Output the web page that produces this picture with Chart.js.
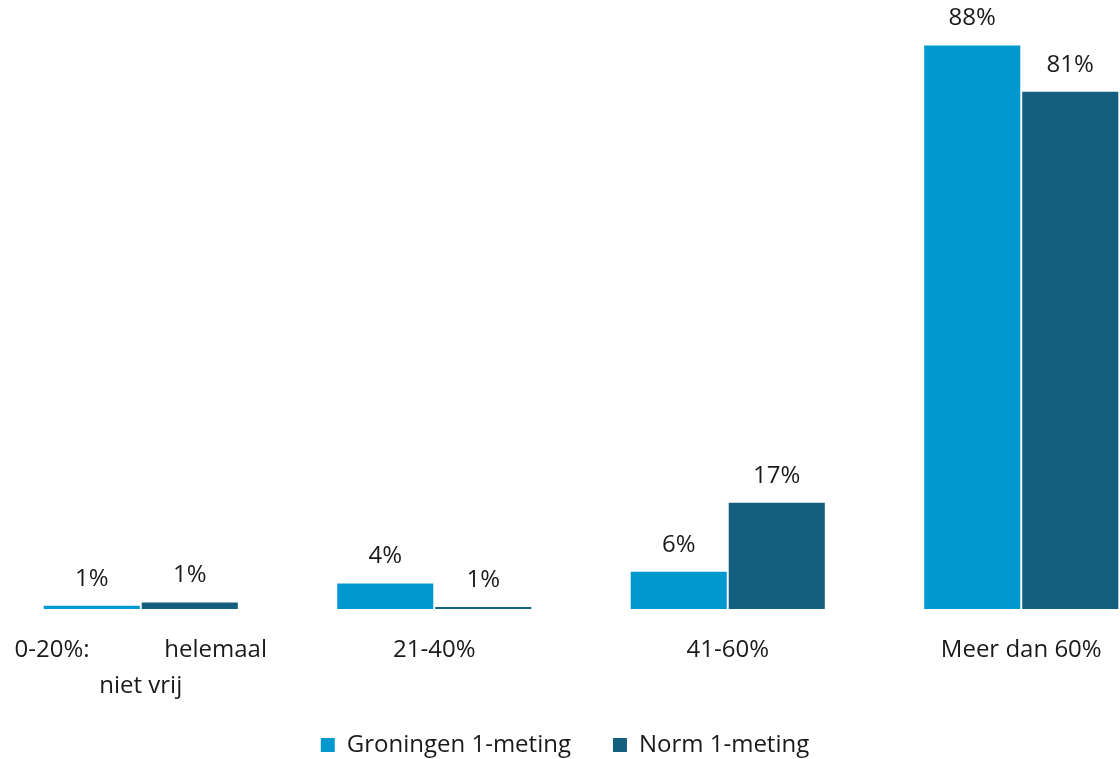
<!DOCTYPE html>
<html>
<head>
<meta charset="utf-8">
<script src="https://cdn.jsdelivr.net/npm/chart.js@4.4.1/dist/chart.umd.min.js"></script>
<style>
  html, body { margin: 0; padding: 0; background: #fff; overflow: hidden; }
  #wrap { position: absolute; left: -6px; top: 0; width: 1174px; height: 759px; }
</style>
</head>
<body>
<div id="wrap"><canvas id="chart"></canvas></div>
<script>
// Data
const categories = [
    ['0-20%:            helemaal', 'niet vrij'],
    '21-40%',
    '41-60%',
    'Meer dan 60%'
];
const groningenValues = [0.5, 4.0, 5.8, 88];
const normValues = [1.0, 0.3, 16.6, 80.8];
const groningenLabels = ['1%', '4%', '6%', '88%'];
const normLabels = ['1%', '1%', '17%', '81%'];

const FONT = '"Open Sans", Lato, sans-serif';
const FONT_SIZE = 24;
const TEXT_COLOR = '#1a1a1a';
const LEGEND_LIFT = 36;   // vertical room taken back from the legend
const LEGEND_DROP = 8;    // legend text sits this much lower

// value labels above each bar
const barLabels = {
    id: 'barLabels',
    afterDatasetsDraw(chart) {
        const ctx = chart.ctx;
        ctx.save();
        ctx.font = FONT_SIZE + 'px ' + FONT;
        ctx.fillStyle = TEXT_COLOR;
        ctx.textAlign = 'center';
        ctx.textBaseline = 'middle';
        chart.data.datasets.forEach((ds, i) => {
            chart.getDatasetMeta(i).data.forEach((bar, j) => {
                ctx.fillText(ds.valueLabels[j], bar.x, bar.y - 27);
            });
        });
        ctx.restore();
    }
};

// legend: keep wide item spacing but take less vertical room, and nudge it left
const legendTweak = {
    id: 'legendTweak',
    beforeLayout(chart) {
        const lg = chart.legend;
        if (lg && !lg._tweaked) {
            const fit = lg.fit.bind(lg);
            lg.fit = function () { fit(); this.height -= LEGEND_LIFT; };
            lg._tweaked = true;
        }
    },
    afterLayout(chart) {
        const lg = chart.legend;
        lg.left -= 16;
        lg.right -= 16;
        lg.top -= LEGEND_LIFT - LEGEND_DROP;
        lg.height += LEGEND_LIFT - LEGEND_DROP;
    }
};

new Chart(document.getElementById('chart'), {
    type: 'bar',
    data: {
        labels: categories,
        datasets: [
            {
                label: 'Groningen 1-meting',
                data: groningenValues,
                valueLabels: groningenLabels,
                backgroundColor: '#0099cf'
            },
            {
                label: 'Norm 1-meting',
                data: normValues,
                valueLabels: normLabels,
                backgroundColor: '#155f7e'
            }
        ]
    },
    options: {
        responsive: true,
        maintainAspectRatio: false,
        animation: false,
        datasets: { bar: { categoryPercentage: 0.668, barPercentage: 0.98 } },
        layout: { padding: { top: 20, left: 0, right: 0, bottom: 0 } },
        scales: {
            x: {
                grid: { display: false },
                border: { display: false },
                ticks: {
                    color: TEXT_COLOR,
                    font: { family: FONT, size: FONT_SIZE, lineHeight: 1.5 },
                    padding: 15,
                    maxRotation: 0,
                    autoSkip: false
                }
            },
            y: {
                display: false,
                min: 0,
                max: 92
            }
        },
        plugins: {
            legend: {
                position: 'bottom',
                labels: {
                    color: TEXT_COLOR,
                    font: { family: FONT, size: FONT_SIZE },
                    boxWidth: 14,
                    boxHeight: 14,
                    padding: 42
                }
            },
            tooltip: { enabled: false }
        }
    },
    plugins: [barLabels, legendTweak]
});
</script>
</body>
</html>
